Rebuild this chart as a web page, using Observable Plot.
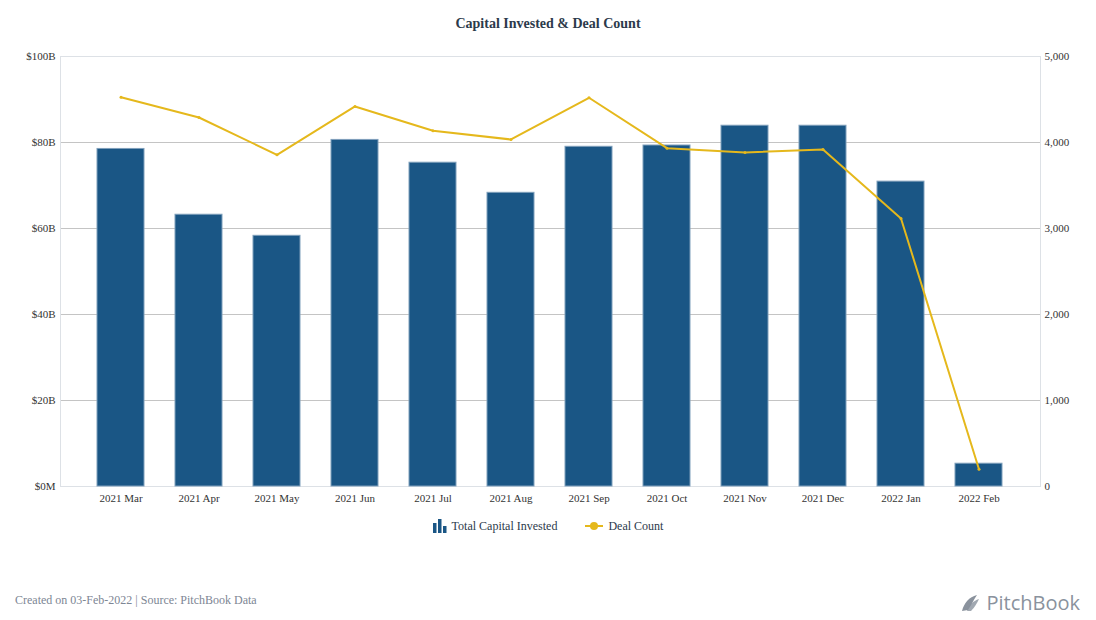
<!DOCTYPE html>
<html>
<head>
<meta charset="utf-8">
<script src="https://cdn.jsdelivr.net/npm/d3@7"></script>
<script src="https://cdn.jsdelivr.net/npm/@observablehq/plot@0.6"></script>
<style>
  html, body { margin: 0; padding: 0; background: #fff; }
  body { width: 1096px; height: 620px; position: relative; font-family: "Liberation Serif", "Times New Roman", serif; }
  #title { height: 44px; line-height: 47px; text-align: center; font-weight: bold; font-size: 14px; color: #2c3a4b; }
  #chart svg { display: block; }
  #legend { display: flex; justify-content: center; align-items: center; gap: 28px; font-size: 12px; color: #2c3a4b; height: 20px; margin-top: 0px; }
  #legend .item { display: flex; align-items: center; gap: 5px; }
  #footer { position: absolute; left: 15px; top: 593px; font-size: 12px; color: #7d8694; }
  #logo { position: absolute; right: 16px; top: 589px; display: flex; align-items: center; gap: 6px; font-family: "Open Sans", "DejaVu Sans", sans-serif; font-size: 20px; color: #8a929d; }
</style>
</head>
<body>
<div id="title">Capital Invested &amp; Deal Count</div>
<div id="chart"></div>
<div id="legend">
  <div class="item">
    <svg width="14" height="14" viewBox="0 0 14 14"><rect x="0" y="4" width="3.5" height="10" fill="#1a5685"/><rect x="5" y="0" width="3.5" height="14" fill="#1a5685"/><rect x="10" y="7" width="3.5" height="7" fill="#1a5685"/></svg>
    <span>Total Capital Invested</span>
  </div>
  <div class="item">
    <svg width="18" height="12" viewBox="0 0 18 12"><line x1="0" y1="6" x2="18" y2="6" stroke="#e5b81c" stroke-width="2"/><circle cx="9" cy="6" r="4" fill="#e5b81c"/></svg>
    <span>Deal Count</span>
  </div>
</div>
<div id="footer">Created on 03-Feb-2022 | Source: PitchBook Data</div>
<div id="logo">
  <svg width="20" height="20" viewBox="0 0 20 20"><path d="M2 18 C4 10, 9 4, 17 2 C14 6, 12 11, 8 17 Z" fill="#8a929d"/><path d="M7 18 C9 12, 13 8, 19 6 C17 10, 15 14, 11 18 Z" fill="#8a929d" opacity="0.8"/></svg>
  <span>PitchBook</span>
</div>
<script>
const months = ["2021 Mar","2021 Apr","2021 May","2021 Jun","2021 Jul","2021 Aug","2021 Sep","2021 Oct","2021 Nov","2021 Dec","2022 Jan","2022 Feb"];
const capitalB = [78.5, 63.2, 58.3, 80.6, 75.3, 68.3, 79.0, 79.3, 83.9, 83.9, 70.9, 5.3];
const dealCount = [4527, 4291, 3857, 4419, 4136, 4035, 4520, 3934, 3884, 3919, 3116, 201];
const leftTicks = [0, 20, 40, 60, 80, 100];
const rightTicks = [0, 1000, 2000, 3000, 4000, 5000];
const dealsPerB = 50; // 5,000 deals ↔ $100B

const data = months.map((m, i) => ({month: m, capital: capitalB[i], deals: dealCount[i]}));

const chart = Plot.plot({
  width: 1096,
  height: 472,
  marginLeft: 60,
  marginRight: 56,
  marginTop: 12,
  marginBottom: 30,
  style: {fontFamily: "'Liberation Serif', 'Times New Roman', serif", fontSize: "11px", color: "#333", background: "#fff"},
  x: {domain: months, paddingInner: 0.4, paddingOuter: 0.2, insetLeft: 20, insetRight: 22, label: null},
  y: {domain: [0, 100], label: null},
  marks: [
    Plot.gridY(leftTicks.slice(1, -1), {stroke: "#c4c4c4", strokeOpacity: 1}),
    Plot.frame({stroke: "#dde1e6"}),
    Plot.barY(data, {x: "month", y: "capital", fill: "#1a5685", stroke: "#7f9fbb", strokeWidth: 1}),
    Plot.line(data, {x: "month", y: d => d.deals / dealsPerB, stroke: "#e5b81c", strokeWidth: 2}),
    Plot.dot(data, {x: "month", y: d => d.deals / dealsPerB, r: 1.5, fill: "#e5b81c"}),
    Plot.axisY(leftTicks, {anchor: "left", tickSize: 0, tickPadding: 5, label: null, tickFormat: d => d === 0 ? "$0M" : `$${d}B`, fill: "#333"}),
    Plot.axisY(rightTicks.map(t => t / dealsPerB), {anchor: "right", tickSize: 0, tickPadding: 4, label: null, tickFormat: d => d3.format(",")(Math.round(d * dealsPerB)), fill: "#333"}),
    Plot.axisX({tickSize: 0, tickPadding: 8, label: null, fill: "#333"})
  ]
});
document.getElementById("chart").appendChild(chart);
</script>
</body>
</html>
